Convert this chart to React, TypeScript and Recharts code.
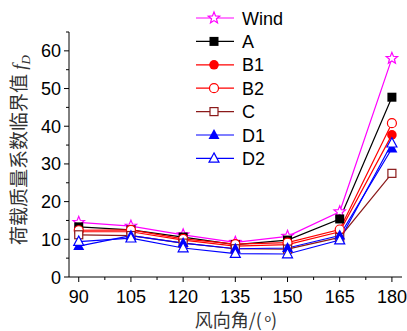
import React from "react";
import { LineChart, Line, XAxis, YAxis } from "recharts";

// wind direction angles (deg)
const angles = [90, 105, 120, 135, 150, 165, 180];

const wind = [14.5, 13.5, 11.2, 9.2, 10.8, 17.3, 58];
const seriesA = [13.3, 12.5, 10.6, 8.6, 9.8, 15.4, 47.7];
const seriesB1 = [12, 12, 9.8, 8.2, 8.6, 12, 37.7];
const seriesB2 = [12.4, 12.5, 10.1, 8.7, 9.1, 12.6, 40.8];
const seriesC = [11.2, 11, 9, 7.5, 7.4, 10.5, 27.5];
const seriesD1 = [8.2, 11, 9, 7.5, 7.7, 11, 34.1];
const seriesD2 = [9.4, 10.3, 7.7, 6.2, 6.1, 9.8, 35.5];

const xTicks = [90, 97.5, 105, 112.5, 120, 127.5, 135, 142.5, 150, 157.5, 165, 172.5, 180];
const yTicks = [0, 5, 10, 15, 20, 25, 30, 35, 40, 45, 50, 55, 60, 65];

type Kind = "star" | "square" | "circle" | "openCircle" | "openSquare" | "triangle" | "openTriangle";

const series: { name: string; values: number[]; color: string; kind: Kind }[] = [
  { name: "Wind", values: wind, color: "#ff00ff", kind: "star" },
  { name: "A", values: seriesA, color: "#000000", kind: "square" },
  { name: "B1", values: seriesB1, color: "#ff0000", kind: "circle" },
  { name: "B2", values: seriesB2, color: "#ff0000", kind: "openCircle" },
  { name: "C", values: seriesC, color: "#8b1a1a", kind: "openSquare" },
  { name: "D1", values: seriesD1, color: "#0000ff", kind: "triangle" },
  { name: "D2", values: seriesD2, color: "#0000ff", kind: "openTriangle" },
];

const data = angles.map((a, i) => {
  const row: Record<string, number> = { angle: a };
  series.forEach((s) => (row[s.name] = s.values[i]));
  return row;
});

const FONT = "'Liberation Sans', Arial, sans-serif";
const CJK = "'Noto Sans CJK SC', sans-serif";

function starPoints(cx: number, cy: number, ro: number, ri: number) {
  const pts: string[] = [];
  for (let i = 0; i < 10; i++) {
    const r = i % 2 === 0 ? ro : ri;
    const ang = -Math.PI / 2 + (i * Math.PI) / 5;
    pts.push(`${cx + r * Math.cos(ang)},${cy + r * Math.sin(ang)}`);
  }
  return pts.join(" ");
}

function Marker({ kind, cx, cy, color }: { kind: Kind; cx: number; cy: number; color: string }) {
  switch (kind) {
    case "star":
      return <polygon points={starPoints(cx, cy, 6, 2.6)} fill="#fff" stroke={color} strokeWidth={1.2} />;
    case "square":
      return <rect x={cx - 4.5} y={cy - 4.5} width={9} height={9} fill={color} />;
    case "openSquare":
      return <rect x={cx - 4} y={cy - 4} width={8} height={8} fill="#fff" stroke={color} strokeWidth={1.2} />;
    case "circle":
      return <circle cx={cx} cy={cy} r={4.8} fill={color} />;
    case "openCircle":
      return <circle cx={cx} cy={cy} r={4.5} fill="#fff" stroke={color} strokeWidth={1.2} />;
    case "triangle":
      return <polygon points={`${cx},${cy - 6} ${cx + 5.5},${cy + 4} ${cx - 5.5},${cy + 4}`} fill={color} />;
    default:
      return (
        <polygon
          points={`${cx},${cy - 5.5} ${cx + 5},${cy + 3.8} ${cx - 5},${cy + 3.8}`}
          fill="#fff"
          stroke={color}
          strokeWidth={1.2}
        />
      );
  }
}

function XTick(props: any) {
  const { x, y, payload } = props;
  const major = payload.value % 15 === 0;
  return (
    <g>
      <line x1={x} y1={y} x2={x} y2={y + (major ? 5 : 3)} stroke="#000" />
      {major && (
        <text x={x} y={y + 26} textAnchor="middle" fontSize={18} fontFamily={FONT} fill="#000">
          {payload.value}
        </text>
      )}
    </g>
  );
}

function YTick(props: any) {
  const { x, y, payload } = props;
  const major = payload.value % 10 === 0;
  return (
    <g>
      <line x1={x} y1={y} x2={x - (major ? 5 : 3)} y2={y} stroke="#000" />
      {major && (
        <text x={x - 8} y={y + 6.5} textAnchor="end" fontSize={18} fontFamily={FONT} fill="#000">
          {payload.value}
        </text>
      )}
    </g>
  );
}

function LegendBox() {
  return (
    <svg width={407} height={180} style={{ position: "absolute", left: 0, top: 0, pointerEvents: "none" }}>
      {series.map((s, i) => {
        const y = 18 + i * 23.4;
        return (
          <g key={s.name}>
            <line x1={196} y1={y} x2={234} y2={y} stroke={s.color} strokeWidth={1.2} />
            <Marker kind={s.kind} cx={214} cy={y} color={s.color} />
            <text x={242} y={y + 6.5} fontSize={18} fontFamily={FONT} fill="#000">
              {s.name}
            </text>
          </g>
        );
      })}
    </svg>
  );
}

export default function App() {
  return (
    <div style={{ position: "absolute", left: 0, top: 0, width: 407, height: 331, background: "#fff" }}>
      <LineChart width={407} height={331} data={data} margin={{ top: 32, right: 5, bottom: 24, left: 9 }}>
        <XAxis
          dataKey="angle"
          type="number"
          domain={[87.2, 182.9]}
          ticks={xTicks}
          interval={0}
          height={30}
          tickSize={0}
          tickMargin={0}
          tickLine={false}
          tick={<XTick />}
          axisLine={{ stroke: "#000", strokeWidth: 1 }}
        />
        <YAxis
          type="number"
          domain={[0, 65]}
          ticks={yTicks}
          interval={0}
          width={60}
          tickSize={0}
          tickMargin={0}
          tickLine={false}
          tick={<YTick />}
          axisLine={{ stroke: "#000", strokeWidth: 1 }}
        />
        {series.map((s) => (
          <Line
            key={s.name}
            dataKey={s.name}
            stroke={s.color}
            strokeWidth={1.2}
            isAnimationActive={false}
            dot={(p: any) => <Marker key={`${s.name}-${p.index}`} kind={s.kind} cx={p.cx} cy={p.cy} color={s.color} />}
            activeDot={false}
          />
        ))}
        <text
          transform="translate(26,150) rotate(-90)"
          textAnchor="middle"
          fontSize={19}
          fontFamily={CJK}
          fill="#333"
        >
          荷载质量系数临界值{" "}
          <tspan fontFamily="'Liberation Serif', serif" fontStyle="italic">f</tspan>
          <tspan fontFamily="'Liberation Serif', serif" fontStyle="italic" fontSize={13} dy={4}>D</tspan>
        </text>
        <text x={236} y={327} textAnchor="middle" fontSize={18} fontFamily={CJK} fill="#333">
          风向角/(
          <tspan fontSize={11} dy={-5}> o</tspan>
          <tspan dy={5}>)</tspan>
        </text>
      </LineChart>
      <LegendBox />
    </div>
  );
}
